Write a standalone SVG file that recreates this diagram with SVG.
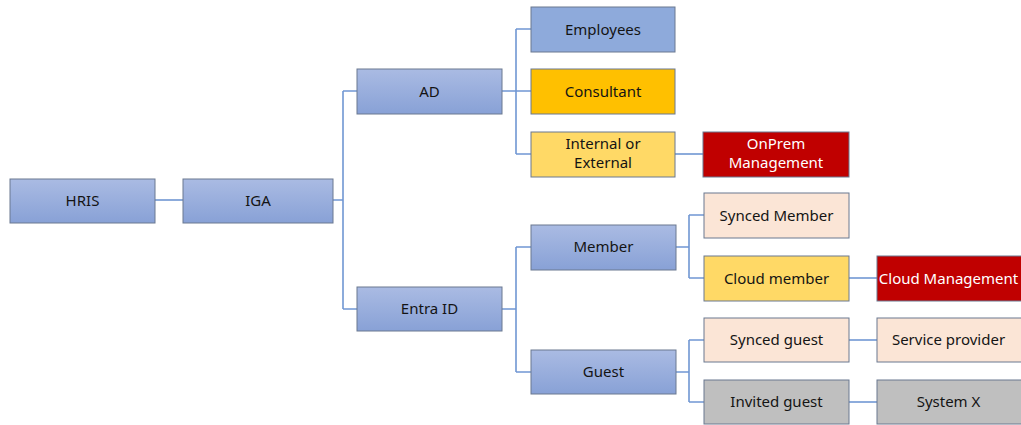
<svg xmlns="http://www.w3.org/2000/svg" width="1021" height="425" viewBox="0 0 1021 425">
<defs>
<linearGradient id="blueGrad" x1="0" y1="0" x2="0" y2="1">
<stop offset="0" stop-color="#aabbe3"/>
<stop offset="1" stop-color="#88a1d6"/>
</linearGradient>
<style>
.box{stroke:#6a7890;stroke-width:1}
.blue{fill:url(#blueGrad)}
.flatblue{fill:#8eaadb}
.orange{fill:#ffc000}
.yellow{fill:#ffd966}
.red{fill:#c00000}
.peach{fill:#fbe5d6}
.gray{fill:#bfbfbf}
text{font-family:"Noto Sans","Liberation Sans",sans-serif;font-size:15px;fill:#141414;text-anchor:middle;dominant-baseline:central}
text.w{fill:#ffffff}
.conn{fill:none;stroke:#7097d3;stroke-width:1.6}
</style>
</defs>
<g id="connectors">
<path class="conn" d="M155,200 H183"/>
<path class="conn" d="M333,200 H343 M343,91 V309 M343,91 H357 M343,309 H357"/>
<path class="conn" d="M502,91 H531 M516,29 V154 M516,29 H531 M516,154 H531"/>
<path class="conn" d="M675,154 H703"/>
<path class="conn" d="M502,309 H516 M516,247 V372 M516,247 H531 M516,372 H531"/>
<path class="conn" d="M676,247 H689 M689,215 V278 M689,215 H704 M689,278 H704"/>
<path class="conn" d="M849,278 H877"/>
<path class="conn" d="M676,372 H689 M689,340 V402 M689,340 H704 M689,402 H704"/>
<path class="conn" d="M849,340 H877"/>
<path class="conn" d="M849,402 H877"/>
</g>
<g id="hris"><rect class="box blue" x="10" y="179" width="145" height="44"/><text x="82.5" y="200">HRIS</text></g>
<g id="iga"><rect class="box blue" x="183" y="179" width="150" height="44"/><text x="258" y="200">IGA</text></g>
<g id="ad"><rect class="box blue" x="357" y="69" width="145" height="45"/><text x="429.5" y="90.5">AD</text></g>
<g id="entra"><rect class="box blue" x="357" y="287" width="145" height="44"/><text x="429.5" y="308">Entra ID</text></g>
<g id="employees"><rect class="box flatblue" x="531" y="7" width="144" height="45"/><text x="603" y="28.5">Employees</text></g>
<g id="consultant"><rect class="box orange" x="531" y="69" width="144" height="45"/><text x="603" y="90.5">Consultant</text></g>
<g id="internal"><rect class="box yellow" x="531" y="132" width="144" height="45"/><text x="603" y="143">Internal or</text><text x="603" y="162">External</text></g>
<g id="onprem"><rect class="box red" x="703" y="132" width="146" height="45"/><text class="w" x="776" y="143">OnPrem</text><text class="w" x="776" y="162">Management</text></g>
<g id="member"><rect class="box blue" x="531" y="225" width="145" height="45"/><text x="603.5" y="246">Member</text></g>
<g id="guest"><rect class="box blue" x="531" y="350" width="145" height="44"/><text x="603.5" y="371">Guest</text></g>
<g id="syncedmember"><rect class="box peach" x="704" y="193" width="145" height="45"/><text x="776.5" y="214.5">Synced Member</text></g>
<g id="cloudmember"><rect class="box yellow" x="704" y="256" width="145" height="45"/><text x="776.5" y="277.5">Cloud member</text></g>
<g id="cloudmgmt"><rect class="box red" x="877" y="256" width="145" height="45"/><text class="w" x="948.5" y="277.5">Cloud Management</text></g>
<g id="syncedguest"><rect class="box peach" x="704" y="318" width="145" height="44"/><text x="776.5" y="339">Synced guest</text></g>
<g id="serviceprovider"><rect class="box peach" x="877" y="318" width="145" height="44"/><text x="948.5" y="339">Service provider</text></g>
<g id="invitedguest"><rect class="box gray" x="704" y="380" width="145" height="44"/><text x="776.5" y="401">Invited guest</text></g>
<g id="systemx"><rect class="box gray" x="877" y="380" width="145" height="44"/><text x="948.5" y="401">System X</text></g>
</svg>
